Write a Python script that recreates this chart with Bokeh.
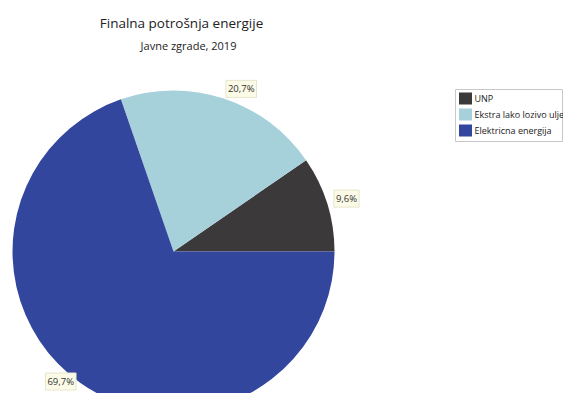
import math
from bokeh.plotting import figure
from bokeh.models import Range1d
from bokeh.core.properties import value
from bokeh.embed import file_html
from bokeh.resources import INLINE

categories = ["UNP", "Ekstra lako lozivo ulje", "Elektricna energija"]
shares = [9.6, 20.7, 69.7]
labels = ["9,6%", "20,7%", "69,7%"]
colors = ["#3c393a", "#a6d0da", "#33469d"]

W, H = 563, 393
p = figure(width=W, height=H, output_backend="svg", toolbar_location=None,
           x_range=Range1d(0, W), y_range=Range1d(409 - H, 409),
           min_border=0)
p.axis.visible = False
p.grid.visible = False
p.outline_line_color = None
p.background_fill_color = "white"

cx, cy, r = 173, 409 - 251, 161
total = sum(shares)
start = 0.0
starts, ends, lx, ly, aligns = [], [], [], [], []
for s in shares:
    a0 = start
    a1 = start + s / total * 2 * math.pi
    starts.append(a0)
    ends.append(a1)
    mid = (a0 + a1) / 2
    lx.append(cx + 168 * math.cos(mid))
    ly.append(max(cy + 168 * math.sin(mid) + 3, 409 - H + 12))
    aligns.append("left" if math.cos(mid) >= 0 else "right")
    start = a1

p.wedge(x=cx, y=cy, radius=r, start_angle=starts, end_angle=ends,
        fill_color=colors, line_color=None)

p.text(x=lx, y=ly, text=labels, text_align=aligns, text_baseline="middle",
       text_font=value("Open Sans"), text_font_size="9.5px", text_color="#333333",
       background_fill_color="#fbfbe8", border_line_color="#e6e6cc",
       padding=2)

# titles
p.text(x=[181], y=[409 - 22], text=["Finalna potrošnja energije"], text_align="center",
       text_baseline="middle", text_font=value("Open Sans"), text_font_size="13.5px",
       text_color="#222222")
p.text(x=[188], y=[409 - 45], text=["Javne zgrade, 2019"], text_align="center",
       text_baseline="middle", text_font=value("Open Sans"), text_font_size="11px",
       text_color="#222222")

# legend
p.quad(left=[455], right=[562], top=[409 - 89], bottom=[409 - 141],
       fill_color="white", line_color="#c8c8c8", line_width=1)
ys = [409 - 98, 409 - 114, 409 - 130]
p.rect(x=[465] * 3, y=ys, width=13, height=12, fill_color=colors, line_color=None)
p.text(x=[474] * 3, y=ys, text=categories, text_baseline="middle",
       text_font=value("Open Sans"), text_font_size="9px", text_color="#222222")

open("out.html", "w").write(file_html(p, INLINE))
